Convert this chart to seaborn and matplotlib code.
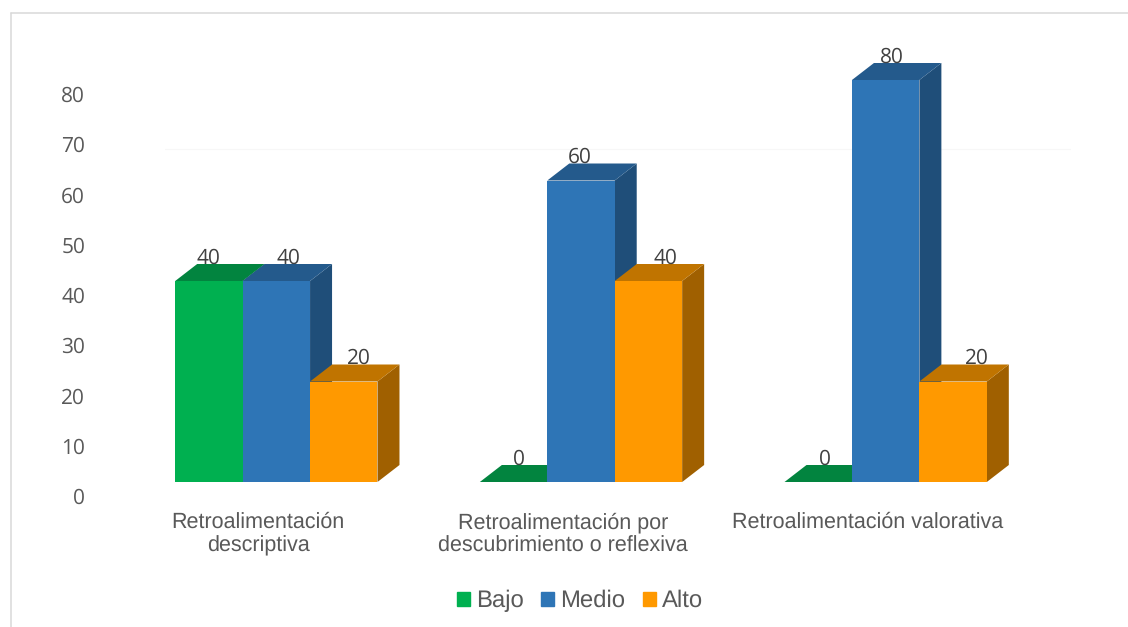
import matplotlib
matplotlib.use('Agg')
import matplotlib.pyplot as plt
import matplotlib.patches as mpatches
from matplotlib.lines import Line2D
from matplotlib.transforms import ScaledTranslation
import pandas as pd
import seaborn as sns

categories = ['Retroalimentación\ndescriptiva',
              'Retroalimentación por\ndescubrimiento o reflexiva',
              'Retroalimentación valorativa']
levels = ['Bajo', 'Medio', 'Alto']
bajo = [40, 0, 0]
medio = [40, 60, 80]
alto = [20, 40, 20]
y_ticks = [0, 10, 20, 30, 40, 50, 60, 70, 80]

front_colors = ['#00B050', '#2E75B6', '#FF9900']
top_colors = ['#02843F', '#245A8C', '#C07400']
side_colors = ['#017A3A', '#1F4E79', '#A06000']
text_grey = '#595959'
label_grey = '#404040'

# horizontal nudge of each value label, pixels (one list per level)
label_nudge = [[0, 5.5, 6.5], [12, -1, 6.5], [15, 17.5, 23.5]]

W, H = 1128, 627

sns.set_style('white')
plt.rcParams['font.family'] = ['Open Sans', 'DejaVu Sans']
plt.rcParams['text.hinting'] = 'none'

df = pd.DataFrame({
    'cat': categories * 3,
    'level': [l for l in levels for _ in categories],
    'value': bajo + medio + alto,
})

fig = plt.figure(figsize=(W / 100, H / 100), dpi=100)
ax = fig.add_axes([124 / W, (H - 482) / H, 914 / W, 452.25 / H])
ax.patch.set_visible(False)

sns.barplot(data=df, x='cat', y='value', hue='level', order=categories, hue_order=levels,
            palette=front_colors, width=0.664, gap=0, linewidth=0, saturation=1,
            legend=False, ax=ax, zorder=5)

ax.set_xlim(-0.5, 2.5)
ax.set_ylim(0, 90)

# fake 3D depth: 22 px across, 17 px up
depth_x = 22 / (914 / 3)
depth_y = 17 / (452.25 / 90)

for i, container in enumerate(ax.containers):
    for j, bar in enumerate(container):
        x0 = bar.get_x()
        x1 = x0 + bar.get_width()
        h = bar.get_height()
        z = 2 + i
        ax.fill([x1, x1 + depth_x, x1 + depth_x, x1], [0, depth_y, h + depth_y, h],
                color=side_colors[i], lw=0, zorder=z, clip_on=False)
        ax.fill([x0, x1, x1 + depth_x, x0 + depth_x], [h, h, h + depth_y, h + depth_y],
                color=top_colors[i], lw=0, zorder=z, clip_on=False)
        ax.annotate(f'{int(h)}', (x0 + bar.get_width() / 2, h),
                    xytext=(label_nudge[i][j], 17.5), textcoords='offset pixels',
                    ha='center', va='baseline', fontsize=15, color=label_grey, zorder=10)

sns.despine(ax=ax, left=True, bottom=True)
ax.set_xlabel('')
ax.set_ylabel('')

ax.set_yticks(y_ticks)
ax.tick_params(axis='y', length=0, pad=28, labelsize=15, labelcolor=text_grey)
for lab in ax.get_yticklabels():
    lab.set_transform(lab.get_transform() + ScaledTranslation(0, -14 / 100, fig.dpi_scale_trans))

ax.tick_params(axis='x', length=0, pad=21.5, labelsize=15.5, labelcolor=text_grey)
for lab in ax.get_xticklabels():
    lab.set_family('Liberation Sans')
    lab.set_linespacing(1.2)
    lab.set_transform(lab.get_transform() + ScaledTranslation(-18 / 100, 0, fig.dpi_scale_trans))

handles = [mpatches.Patch(color=c, label=l) for c, l in zip(front_colors, levels)]
fig.legend(handles=handles, loc='center', bbox_to_anchor=(580 / W, (H - 601) / H), ncol=3,
           frameon=False, labelcolor=text_grey, handlelength=0.55, handleheight=0.55,
           handletextpad=0.25, columnspacing=0.72, borderpad=0,
           prop={'family': 'Liberation Sans', 'size': 17.2})

# outer chart border (only top and left are in the crop), faint back gridline
fig.add_artist(Line2D([11 / W, 11 / W], [0, 1 - 13 / H], color='#D9D9D9', lw=1.1))
fig.add_artist(Line2D([11 / W, 1], [1 - 13 / H, 1 - 13 / H], color='#D9D9D9', lw=1.1))
fig.add_artist(Line2D([165 / W, 1070 / W], [1 - 149 / H, 1 - 149 / H], color='#F7F7F7', lw=0.8, zorder=-1))

fig.savefig('out.png', dpi=100)
